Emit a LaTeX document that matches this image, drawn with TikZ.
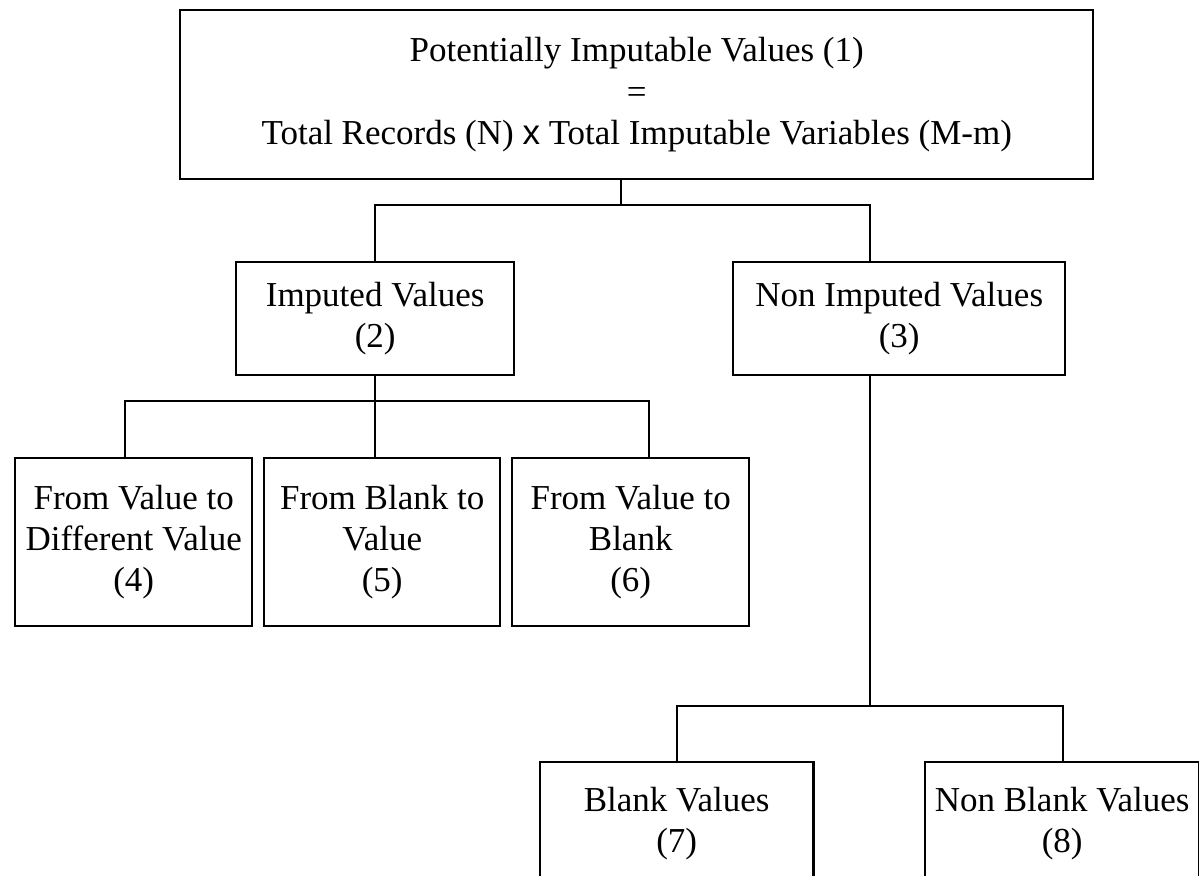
\documentclass[tikz,border=0pt]{standalone}
\usepackage{fontspec}
\setmainfont{Liberation Serif}
\newfontfamily\sansx{Liberation Sans}
\begin{document}
\begin{tikzpicture}[x=0.5pt,y=-0.5pt]
\tikzset{
  box/.style={draw, line width=1.2pt, inner sep=0pt, align=center, anchor=north west,
    font=\fontsize{17.5}{20.6}\selectfont},
  wh/.style 2 args={minimum width=#1*0.5pt, minimum height=#2*0.5pt},
  conn/.style={line width=1pt},
  edge3/.style={line width=1.2pt}
}
\clip (0,0) rectangle (1199,875);
\fill[white] (0,0) rectangle (1199,875);

\node[box, wh={913}{169}] (n1) at (179,9) {Potentially Imputable Values (1)\\=\\Total Records (N) {\sansx x} Total Imputable Variables (M-m)};
\node[box, wh={278}{113}] (n2) at (235,261) {Imputed Values\\(2)};
\node[box, wh={332}{113}] (n3) at (732,261) {Non Imputed Values\\(3)};
\node[box, wh={237}{168}] (n4) at (14,457) {From Value to\\Different Value\\(4)};
\node[box, wh={236}{168}] (n5) at (263,457) {From Blank to\\Value\\(5)};
\node[box, wh={237}{168}] (n6) at (511,457) {From Value to\\Blank\\(6)};
\node[box, draw=none, wh={271}{121}] (n7) at (540,762) {Blank Values\\(7)};
\node[box, draw=none, wh={272}{121}] (n8) at (925,762) {Non Blank Values\\(8)};
\draw[edge3] ([yshift=-20pt]n7.south west) -- (n7.north west) -- (n7.north east) -- ([yshift=-20pt]n7.south east);
\draw[edge3] ([yshift=-20pt]n8.south west) -- (n8.north west) -- (n8.north east) -- ([yshift=-20pt]n8.south east);

\coordinate (b1) at (621,205);
\coordinate (b3) at (870,706);
\coordinate (k4) at (125,401);
\coordinate (k6) at (649,401);
\coordinate (k7) at (677,706);
\coordinate (k8) at (1063,706);

\draw[conn] (n1.south -| b1) -- (b1);
\draw[conn] (n2.north) |- (b1) -| (b3 |- n3.north);
\draw[conn] (n2.south) -- (n2.south |- n5.north);
\draw[conn] (k4 |- n4.north) -- (k4) -- (k6) -- (k6 |- n6.north);
\draw[conn] (b3 |- n3.south) -- (b3);
\draw[conn] (k7 |- n7.north) -- (k7) -- (k8) -- (k8 |- n8.north);
\end{tikzpicture}
\end{document}
